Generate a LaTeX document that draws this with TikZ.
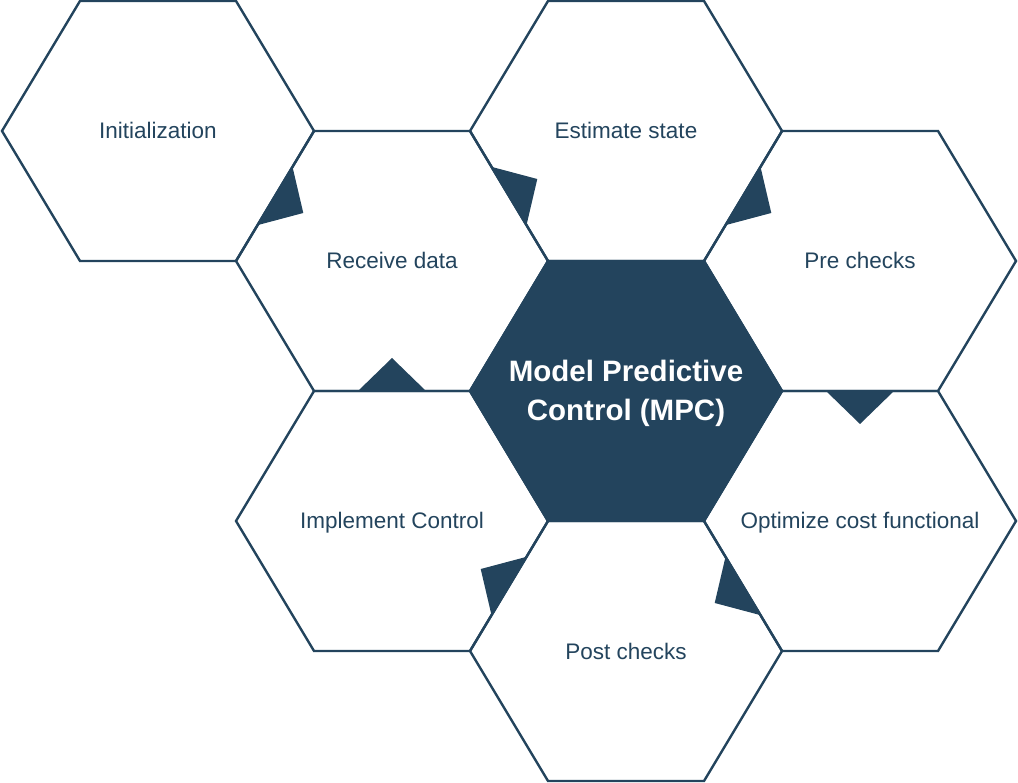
\documentclass[tikz,border=0pt]{standalone}
\usepackage{fontspec}
\setmainfont{Liberation Sans}
\usepackage{tikz}
\usetikzlibrary{calc}
\definecolor{mpcblue}{HTML}{23445D}
\tikzset{
  cell/.style={draw=mpcblue, line width=2.4pt},
  hubcell/.style={draw=mpcblue, fill=mpcblue, line width=2.4pt},
  celltext/.style={text=mpcblue, font=\fontsize{22.5}{27}\selectfont, text height=16pt, text depth=0pt, inner sep=0pt},
  hubtext/.style={text=white, font=\bfseries\fontsize{29.5}{38.5}\selectfont, align=center, inner sep=0pt},
  tip/.style={fill=mpcblue}
}
\newcommand{\hexcell}[2]{\path[#2] (#1) +(-156,0) coordinate (#1-1) -- +(-78,-130) coordinate (#1-2) -- +(78,-130) coordinate (#1-3) -- +(156,0) coordinate (#1-4) -- +(78,130) coordinate (#1-5) -- +(-78,130) coordinate (#1-6) -- cycle;}
\newcommand{\tipmark}[2]{\path ($(#1)!0.5!(#2)$) coordinate (tm);
  \fill[tip] ($(tm)!34pt!(#1)$) -- ($(tm)!34pt!(#2)$) -- ($(tm)!33pt!90:(#2)$) -- cycle;}

\begin{document}
\begin{tikzpicture}[x=1pt,y=-1pt]
\useasboundingbox (0,0) rectangle (1018,783);
\coordinate (init) at (158,131);
\coordinate (recv) at (392,261);
\coordinate (est) at (626,131);
\coordinate (pre) at (860,261);
\coordinate (mpc) at (626,391);
\coordinate (impl) at (392,521);
\coordinate (opt) at (860,521);
\coordinate (post) at (626,651);
\foreach \c in {init,recv,est,pre,impl,opt,post} {\hexcell{\c}{cell}}
\hexcell{mpc}{hubcell}
\node[celltext] (init-txt) at (init) {Initialization};
\node[celltext] (recv-txt) at (recv) {Receive data};
\node[celltext] (est-txt) at (est) {Estimate state};
\node[celltext] (pre-txt) at (pre) {Pre checks};
\node[celltext] (impl-txt) at (impl) {Implement Control};
\node[celltext] (opt-txt) at (opt) {Optimize cost functional};
\node[celltext] (post-txt) at (post) {Post checks};
\node[hubtext] (mpc-txt) at ($(mpc)+(0,2.5)$) {Model Predictive\\Control (MPC)};
\tipmark{init-4}{init-5}
\tipmark{recv-3}{recv-4}
\tipmark{est-4}{est-5}
\tipmark{pre-5}{pre-6}
\tipmark{opt-6}{opt-1}
\tipmark{post-1}{post-2}
\tipmark{impl-2}{impl-3}
\end{tikzpicture}
\end{document}
